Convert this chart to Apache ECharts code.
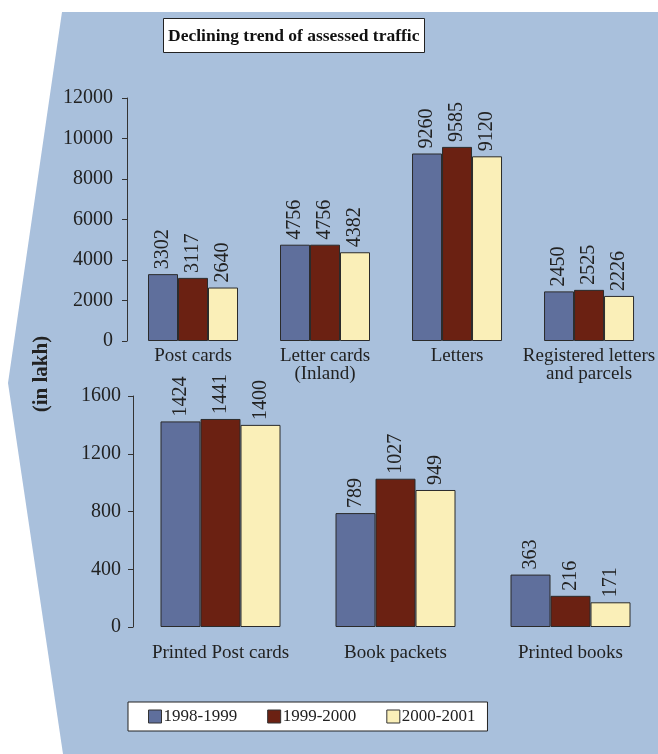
<!DOCTYPE html>
<html>
<head>
<meta charset="utf-8">
<script src="https://cdn.jsdelivr.net/npm/echarts@6/dist/echarts.min.js"></script>
<style>
html,body{margin:0;padding:0;background:#ffffff;}
#chart{width:658px;height:754px;}
</style>
</head>
<body>
<div id="chart"></div>
<script>
// ---- data ----
const seriesNames = ['1998-1999', '1999-2000', '2000-2001'];
const topCategories = ['Post cards', 'Letter cards\n(Inland)', 'Letters', 'Registered letters\nand parcels'];
const top1998 = [3302, 4756, 9260, 2450];
const top1999 = [3117, 4756, 9585, 2525];
const top2000 = [2640, 4382, 9120, 2226];
const bottomCategories = ['Printed Post cards', 'Book packets', 'Printed books'];
const bot1998 = [1424, 789, 363];
const bot1999 = [1441, 1027, 216];
const bot2000 = [1400, 949, 171];
const titleText = 'Declining trend of assessed traffic';
const unitText = '(in lakh)';

// ---- styling ----
const FONT = '"Liberation Serif", "Times New Roman", serif';
const TXT = '#222222';
const colors = ['#5f6f9c', '#6b2112', '#faefb8'];
const panel = '#a9c0dc';

const chart = echarts.init(document.getElementById('chart'), null, {renderer: 'canvas'});

function barSeries(name, data, idx, gridIdx, width) {
  return {
    name: name,
    type: 'bar',
    xAxisIndex: gridIdx,
    yAxisIndex: gridIdx,
    data: data,
    barWidth: width,
    barGap: '0%',
    itemStyle: {color: colors[idx], borderColor: '#2b2b2b', borderWidth: 1},
    label: {
      show: true,
      position: 'top',
      rotate: 90,
      align: 'left',
      verticalAlign: 'middle',
      distance: 5,
      fontFamily: FONT,
      fontSize: 20,
      color: TXT
    }
  };
}

const yAxisCommon = {
  type: 'value',
  splitLine: {show: false},
  axisLine: {show: true, lineStyle: {color: '#333', width: 1}},
  axisTick: {show: true, length: 5, inside: false, lineStyle: {color: '#333'}},
};

const xAxisCommon = {
  type: 'category',
  axisLine: {show: false},
  axisTick: {show: false},
};

const plain = function (v) { return String(v); };

const option = {
  animation: false,
  color: colors,
  graphic: [
    {
      type: 'polygon',
      z: -10,
      silent: true,
      shape: {points: [[62, 12], [658, 12], [658, 754], [63, 754], [8, 383]]},
      style: {fill: panel}
    },
    {
      type: 'text',
      x: 42, y: 374,
      rotation: Math.PI / 2,
      style: {
        text: unitText,
        fontFamily: FONT,
        fontWeight: 'bold',
        fontSize: 21,
        fill: TXT,
        align: 'center',
        verticalAlign: 'middle'
      }
    }
  ],
  title: {
    text: titleText,
    left: 163,
    top: 18,
    padding: [9, 5, 8, 5],
    backgroundColor: '#ffffff',
    borderColor: '#222',
    borderWidth: 1,
    textStyle: {fontFamily: FONT, fontWeight: 'bold', fontSize: 17.5, color: '#111'}
  },
  legend: {
    data: seriesNames,
    left: 128,
    top: 702,
    padding: [6, 12, 6, 20],
    itemGap: 30,
    itemWidth: 13,
    itemHeight: 13,
    icon: 'rect',
    backgroundColor: '#ffffff',
    borderColor: '#222',
    borderWidth: 1,
    itemStyle: {borderColor: '#333', borderWidth: 1},
    textStyle: {fontFamily: FONT, fontSize: 17, color: TXT, padding: [0, 0, 0, -3]}
  },
  grid: [
    {left: 127, width: 530, top: 98, height: 243},
    {left: 133, width: 540, top: 396, height: 231}
  ],
  xAxis: [
    Object.assign({}, xAxisCommon, {
      gridIndex: 0,
      data: topCategories,
      axisLabel: {interval: 0, margin: 6, fontFamily: FONT, fontSize: 19, color: TXT, lineHeight: 18}
    }),
    Object.assign({}, xAxisCommon, {
      gridIndex: 1,
      data: bottomCategories,
      axisLabel: {interval: 0, margin: 17, fontFamily: FONT, fontSize: 19, color: TXT}
    })
  ],
  yAxis: [
    Object.assign({}, yAxisCommon, {
      gridIndex: 0, min: 0, max: 12000, interval: 2000,
      axisLabel: {margin: 14, fontFamily: FONT, fontSize: 20, color: TXT, formatter: plain}
    }),
    Object.assign({}, yAxisCommon, {
      gridIndex: 1, min: 0, max: 1600, interval: 400,
      axisLabel: {margin: 12, fontFamily: FONT, fontSize: 20, color: TXT, formatter: plain}
    })
  ],
  series: [
    barSeries(seriesNames[0], top1998, 0, 0, 30),
    barSeries(seriesNames[1], top1999, 1, 0, 30),
    barSeries(seriesNames[2], top2000, 2, 0, 30),
    barSeries(seriesNames[0], bot1998, 0, 1, 40),
    barSeries(seriesNames[1], bot1999, 1, 1, 40),
    barSeries(seriesNames[2], bot2000, 2, 1, 40)
  ]
};

chart.setOption(option);
</script>
</body>
</html>
